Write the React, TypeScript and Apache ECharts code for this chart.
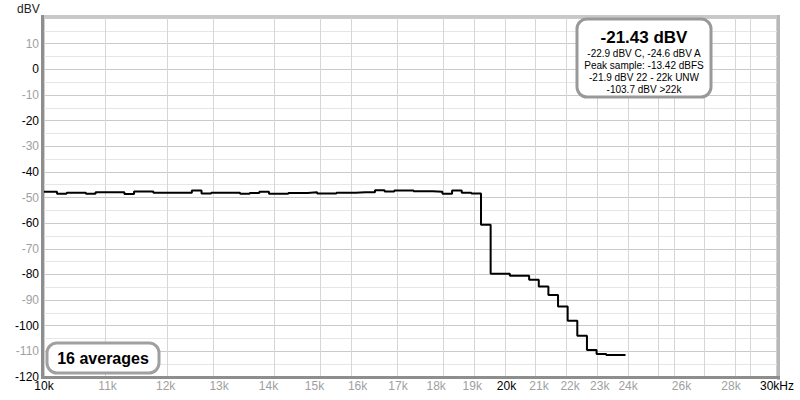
import React, { useEffect, useRef } from "react";
import * as echarts from "echarts";

// Step edges of the 1/48-octave bins (Hz) and level of each bin (dBV)
const binEdgesHz = [
  10000, 10197, 10345, 10496, 10648, 10803, 10960, 11120, 11281, 11445,
  11612, 11781, 11952, 12126, 12302, 12481, 12663, 12847, 13034, 13223,
  13416, 13611, 13809, 14010, 14214, 14421, 14630, 14843, 15059, 15278,
  15501, 15726, 15955, 16187, 16423, 16662, 16904, 17150, 17400, 17653,
  17909, 18170, 18434, 18703, 18975, 19251, 19531, 19815, 20102, 20394,
  20691, 20992, 21297, 21607, 21921, 22240, 22564, 22892, 23225, 23563,
  23906,
];
const levelsDbv = [
  -47.8, -48.5, -48.1, -48.1, -48.5, -48.0, -48.0, -48.0, -48.6, -47.7,
  -47.7, -48.1, -48.1, -48.1, -48.1, -47.3, -48.4, -48.1, -48.1, -48.1,
  -48.5, -48.2, -47.8, -48.5, -48.5, -48.2, -48.2, -48.0, -48.4, -48.4,
  -48.1, -48.1, -48.0, -48.0, -47.2, -47.7, -47.3, -47.3, -47.6, -47.6,
  -47.8, -48.5, -47.3, -48.1, -48.4, -60.6, -79.7, -79.7, -80.5, -80.5,
  -82.1, -84.7, -88.0, -92.5, -98.1, -103.9, -109.5, -111.0, -111.4, -111.4,
  -111.4,
];

const xLabelFreqs = [
  10000, 11000, 12000, 13000, 14000, 15000, 16000, 17000, 18000, 19000,
  20000, 21000, 22000, 23000, 24000, 26000, 28000, 30000,
];
const xGridFreqs = [
  11000, 12000, 13000, 14000, 15000, 16000, 17000, 18000, 19000, 20000,
  21000, 22000, 23000, 24000, 25000, 26000, 27000, 28000, 29000,
];
const xBoldFreqs = [10000, 20000, 30000];
const xMinHz = 10000;
const xMaxHz = 30000;
const yMin = -120;
const yMax = 20;

const infoTitle = "-21.43 dBV";
const infoLines = [
  "-22.9 dBV C, -24.6 dBV A",
  "Peak sample: -13.42 dBFS",
  "-21.9 dBV 22 - 22k UNW",
  "-103.7 dBV >22k",
];
const averagesText = "16 averages";
const yUnit = "dBV";

const FONT = "'Liberation Sans', Arial, sans-serif";

export default function App() {
  const ref = useRef<HTMLDivElement>(null);

  useEffect(() => {
    document.body.style.margin = "0";
    if (!ref.current) return;
    const chart = echarts.init(ref.current, undefined, { renderer: "svg" });

    const lg = (f: number) => Math.log10(f);

    const option: any = {
      animation: false,
      backgroundColor: "#ffffff",
      grid: {
        left: 44,
        right: 23,
        top: 18,
        bottom: 23,
        show: true,
        borderColor: "#a0a0a0",
        borderWidth: 1,
        backgroundColor: "#ffffff",
      },
      xAxis: {
        type: "value",
        min: lg(xMinHz),
        max: lg(xMaxHz),
        axisLine: { show: false },
        axisTick: { show: false },
        splitLine: { show: false },
        axisLabel: {
          customValues: xLabelFreqs.map(lg),
          margin: 3,
          fontSize: 12,
          fontFamily: FONT,
          formatter: (v: number) => {
            const f = Math.round(Math.pow(10, Number(v)));
            return f === 30000 ? "30kHz" : Math.round(f / 1000) + "k";
          },
          color: (v: any) => {
            const f = Math.round(Math.pow(10, Number(v)));
            return xBoldFreqs.some((b) => Math.abs(b - f) < 2) ? "#000000" : "#a0a0a0";
          },
        },
      },
      yAxis: {
        type: "value",
        min: yMin,
        max: yMax,
        interval: 5,
        axisLine: { show: false },
        axisTick: { show: false },
        axisLabel: {
          margin: 5,
          fontSize: 12,
          fontFamily: FONT,
          formatter: (v: number) => {
            const n = Number(v);
            return n % 10 === 0 && n !== yMax ? String(n) : "";
          },
          color: (v: any) => (Number(v) % 20 === 0 ? "#000000" : "#a0a0a0"),
        },
        splitLine: {
          show: true,
          lineStyle: { color: ["#cacaca", "#e6e6e6"], width: 1 },
        },
      },
      series: [
        {
          type: "line",
          data: [],
          silent: true,
          z: 1,
          markLine: {
            silent: true,
            symbol: "none",
            label: { show: false },
            lineStyle: { color: "#d6d6d6", width: 1, type: "solid" },
            data: xGridFreqs.map((f) => ({ xAxis: lg(f) })),
          },
        },
        {
          type: "line",
          step: "end",
          showSymbol: false,
          symbol: "none",
          z: 5,
          lineStyle: { color: "#000000", width: 2 },
          data: binEdgesHz.map((f, i) => [lg(f), levelsDbv[i]]),
        },
      ],
      graphic: [
        // frame bevel
        { type: "rect", z: 50, shape: { x: 41, y: 15, width: 739, height: 3 }, style: { fill: "#c8c8c8" } },
        { type: "rect", z: 50, shape: { x: 777, y: 15, width: 3, height: 365 }, style: { fill: "#b8b8b8" } },
        { type: "rect", z: 51, shape: { x: 41, y: 15, width: 3, height: 363 }, style: { fill: "#8e8e8e" } },
        { type: "rect", z: 51, shape: { x: 41, y: 376, width: 739, height: 3 }, style: { fill: "#8e8e8e" } },
        {
          type: "text",
          left: 17,
          top: 3,
          style: { text: yUnit, font: `12px ${FONT}`, fill: "#222222" },
        },
        // info box
        {
          type: "rect",
          z: 60,
          shape: { x: 577, y: 19, width: 134, height: 78, r: 10 },
          style: { fill: "#ffffff", stroke: "#999999", lineWidth: 3 },
        },
        {
          type: "text",
          z: 61,
          x: 644,
          y: 37,
          style: {
            text: infoTitle,
            font: `bold 17px ${FONT}`,
            fill: "#000000",
            textAlign: "center",
            textVerticalAlign: "middle",
          },
        },
        ...infoLines.map((t, i) => ({
          type: "text",
          z: 61,
          x: 644,
          y: 53 + i * 12,
          style: {
            text: t,
            font: `10px ${FONT}`,
            fill: "#000000",
            textAlign: "center",
            textVerticalAlign: "middle",
          },
        })),
        // averages box
        {
          type: "rect",
          z: 60,
          shape: { x: 47, y: 343, width: 112, height: 30, r: 10 },
          style: { fill: "#ffffff", stroke: "#a0a0a0", lineWidth: 3 },
        },
        {
          type: "text",
          z: 61,
          x: 103,
          y: 358,
          style: {
            text: averagesText,
            font: `bold 16px ${FONT}`,
            fill: "#000000",
            textAlign: "center",
            textVerticalAlign: "middle",
          },
        },
      ],
    };

    chart.setOption(option);
    return () => chart.dispose();
  }, []);

  return <div ref={ref} style={{ width: 800, height: 400 }} />;
}
